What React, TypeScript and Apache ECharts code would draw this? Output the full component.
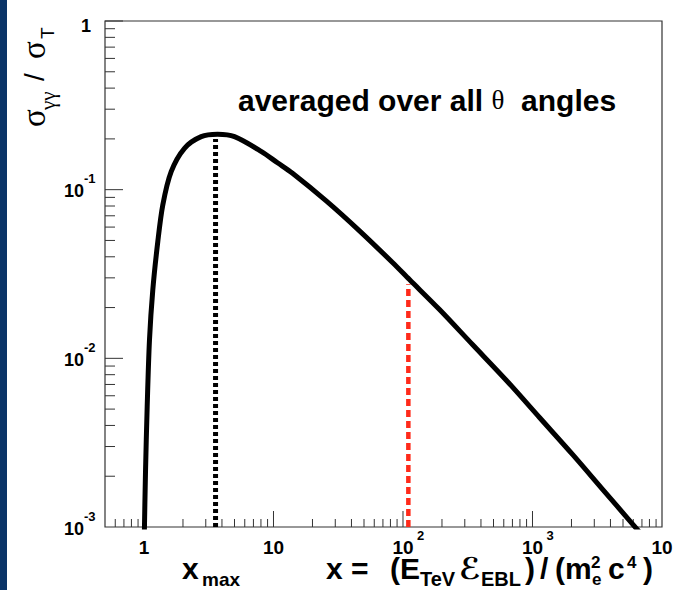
import React, { useEffect, useRef } from 'react';
import * as echarts from 'echarts';

// ---- data ----
const curveX = [1.002, 1.027, 1.0586, 1.1027, 1.1695, 1.2784, 1.397, 1.6219, 2.0547, 2.7666, 3.695, 5.0, 8.08, 10.74, 14.02, 25.67, 46.15, 82.99, 112.2, 191.4, 344.1, 629.7, 1133, 2037, 3411, 5814, 9233];
const curveY = [0.00076, 0.002093, 0.005172, 0.01285, 0.02543, 0.04917, 0.0812, 0.1279, 0.1759, 0.2062, 0.213, 0.2062, 0.1682, 0.1443, 0.1251, 0.0855, 0.057, 0.037, 0.0293, 0.01947, 0.01207, 0.00739, 0.004457, 0.002694, 0.001702, 0.001059, 0.000702];

const xMaxValue = 3.57;
const xMaxTop = 0.2;
const xRedValue = 110;
const xRedTop = 0.0275;

const xRange = [0.5, 10000];
const yRange = [0.001, 1];

const xLabelValues = [1, 10, 100, 1000, 10000];
const yLabelValues = [0.001, 0.01, 0.1, 1];
const xMajorTicks = [1, 10, 100, 1000];
const xMinorTicks = [0.6, 0.7, 0.8, 0.9, 2, 3, 4, 5, 6, 7, 8, 9, 20, 30, 40, 50, 60, 70, 80, 90, 200, 300, 400, 500, 600, 700, 800, 900, 2000, 3000, 4000, 5000, 6000, 7000, 8000, 9000];
const yMajorTicks = [0.01, 0.1, 1];
const yMinorTicks = [0.002, 0.003, 0.004, 0.005, 0.006, 0.007, 0.008, 0.009, 0.02, 0.03, 0.04, 0.05, 0.06, 0.07, 0.08, 0.09, 0.2, 0.3, 0.4, 0.5, 0.6, 0.7, 0.8, 0.9];

const titleText = 'averaged over all ';
const titleTheta = 'θ';
const titleTail = '  angles';

const SANS = '"Liberation Sans", Arial, Helvetica, sans-serif';
const SERIF = '"Liberation Serif", "DejaVu Serif", serif';

export default function App() {
  const ref = useRef<HTMLDivElement>(null);
  useEffect(() => {
    if (!ref.current) return;
    const chart = echarts.init(ref.current, undefined, { renderer: 'svg' });

    const tickColor = '#333';
    const xTickData = [
      ...xMajorTicks.map((v) => [v, yRange[0], 1]),
      ...xMinorTicks.map((v) => [v, yRange[0], 0]),
    ];
    const yTickData = [
      ...yMajorTicks.map((v) => [xRange[0], v, 1]),
      ...yMinorTicks.map((v) => [xRange[0], v, 0]),
    ];

    const txt = (x: number, y: number, text: string, size: number, opts: any = {}) => ({
      type: 'text',
      x,
      y,
      silent: true,
      style: {
        text,
        fill: '#000',
        font: `${opts.weight || 'bold'} ${size}px ${opts.family || SANS}`,
        lineHeight: Math.round(size * 0.72),
        align: opts.align || 'left',
        verticalAlign: 'middle',
      },
    });

    const option: any = {
      animation: false,
      backgroundColor: '#fff',
      grid: {
        left: 105,
        top: 21,
        width: 557,
        height: 506,
        show: true,
        borderColor: '#333',
        borderWidth: 1.2,
        backgroundColor: 'transparent',
      },
      xAxis: {
        type: 'log',
        logBase: 10,
        min: xRange[0],
        max: xRange[1],
        axisLine: { show: false },
        axisTick: { show: false },
        splitLine: { show: false },
        axisLabel: { show: false },
      },
      yAxis: {
        type: 'log',
        logBase: 10,
        min: yRange[0],
        max: yRange[1],
        axisLine: { show: false },
        axisTick: { show: false },
        splitLine: { show: false },
        axisLabel: { show: false },
      },
      series: [
        {
          type: 'custom',
          name: 'xTicks',
          coordinateSystem: 'cartesian2d',
          silent: true,
          clip: false,
          z: 1,
          encode: { x: 0, y: 1 },
          data: xTickData,
          renderItem: (params: any, api: any) => {
            const p = api.coord([api.value(0), api.value(1)]);
            const len = api.value(2) ? 16 : 8;
            return {
              type: 'line',
              shape: { x1: p[0], y1: p[1], x2: p[0], y2: p[1] - len },
              style: { stroke: tickColor, lineWidth: 1 },
            };
          },
        },
        {
          type: 'custom',
          name: 'yTicks',
          coordinateSystem: 'cartesian2d',
          silent: true,
          clip: false,
          z: 1,
          encode: { x: 0, y: 1 },
          data: yTickData,
          renderItem: (params: any, api: any) => {
            const p = api.coord([api.value(0), api.value(1)]);
            const len = api.value(2) ? 18 : 10;
            return {
              type: 'line',
              shape: { x1: p[0], y1: p[1], x2: p[0] + len, y2: p[1] },
              style: { stroke: tickColor, lineWidth: 1 },
            };
          },
        },
        {
          type: 'custom',
          name: 'xLabels',
          coordinateSystem: 'cartesian2d',
          silent: true,
          clip: false,
          z: 1,
          encode: { x: 0, y: 1 },
          data: xLabelValues.map((v) => [v, yRange[0]]),
          renderItem: (params: any, api: any) => {
            const v = api.value(0);
            const e = Math.round(Math.log10(v));
            const p = api.coord([v, api.value(1)]);
            const children: any[] = [
              {
                type: 'text',
                x: p[0],
                y: p[1] + 20,
                style: { text: e === 0 ? '1' : '10', font: `bold 19px ${SANS}`, lineHeight: 14, fill: '#000', align: 'center', verticalAlign: 'middle' },
              },
            ];
            if (e >= 2) {
              children.push({
                type: 'text',
                x: p[0] + 14,
                y: p[1] + 8.5,
                style: { text: String(e), font: `bold 13px ${SANS}`, lineHeight: 10, fill: '#000', align: 'left', verticalAlign: 'middle' },
              });
            }
            return { type: 'group', children };
          },
        },
        {
          type: 'custom',
          name: 'yLabels',
          coordinateSystem: 'cartesian2d',
          silent: true,
          clip: false,
          z: 1,
          encode: { x: 0, y: 1 },
          data: yLabelValues.map((v) => [xRange[0], v]),
          renderItem: (params: any, api: any) => {
            const v = api.value(1);
            const e = Math.round(Math.log10(v));
            const p = api.coord([api.value(0), v]);
            if (e === 0) {
              return {
                type: 'text',
                x: p[0] - 14,
                y: p[1] + 5,
                style: { text: '1', font: `bold 18px ${SANS}`, lineHeight: 14, fill: '#000', align: 'right', verticalAlign: 'middle' },
              };
            }
            return {
              type: 'group',
              children: [
                {
                  type: 'text',
                  x: p[0] - 21,
                  y: p[1] + 1.5,
                  style: { text: '10', font: `bold 18px ${SANS}`, lineHeight: 14, fill: '#000', align: 'right', verticalAlign: 'middle' },
                },
                {
                  type: 'text',
                  x: p[0] - 21,
                  y: p[1] - 11,
                  style: { text: String(e), font: `bold 13px ${SANS}`, lineHeight: 10, fill: '#000', align: 'left', verticalAlign: 'middle' },
                },
              ],
            };
          },
        },
        {
          type: 'line',
          silent: true,
          symbol: 'none',
          z: 2,
          data: [[xMaxValue, yRange[0]], [xMaxValue, xMaxTop]],
          lineStyle: { color: '#000', width: 5, type: [4, 3], cap: 'butt' },
        },
        {
          type: 'line',
          silent: true,
          symbol: 'none',
          z: 2,
          data: [[xRedValue, yRange[0]], [xRedValue, xRedTop]],
          lineStyle: { color: '#ff2a1a', width: 4.5, type: [7, 4], cap: 'butt' },
        },
        {
          type: 'line',
          silent: true,
          symbol: 'none',
          smooth: 0.3,
          z: 3,
          data: curveX.map((x, i) => [x, curveY[i]]),
          lineStyle: { color: '#000', width: 5 },
        },
      ],
      graphic: [
        { type: 'rect', silent: true, shape: { x: 0, y: 0, width: 7, height: 590 }, style: { fill: '#0a3467' } },
        {
          type: 'text',
          x: 238,
          y: 100,
          silent: true,
          style: {
            text: `{a|${titleText}}{t|${titleTheta}}{a|${titleTail}}`,
            align: 'left',
            verticalAlign: 'middle',
            rich: {
              a: { fontSize: 30, fontWeight: 'bold', fontFamily: SANS, fill: '#000' },
              t: { fontSize: 27, fontWeight: 'normal', fontFamily: SERIF, fill: '#000' },
            },
          },
        },
        // y-axis title, rotated
        {
          type: 'group',
          x: 45,
          y: 127,
          rotation: Math.PI / 2,
          silent: true,
          children: [
            txt(0, -11, 'σ', 33, { weight: 'normal', family: SERIF }),
            txt(17, 3, 'γγ', 21, { weight: 'normal', family: SERIF }),
            txt(46, -11, '/', 28, { weight: 'normal' }),
            txt(68, -11, 'σ', 33, { weight: 'normal', family: SERIF }),
            txt(88, 2, 'T', 19, { weight: 'normal' }),
          ],
        },
        // x-axis titles
        txt(182, 568, 'x', 30),
        txt(202, 579, 'max', 19),
        txt(326, 568, 'x', 30),
        txt(351, 568, '=', 30),
        txt(390, 568, '(E', 30),
        txt(420, 579, 'TeV', 20),
        txt(459, 568, 'ℰ', 30, { weight: 'bold', family: '"DejaVu Sans", sans-serif' }),
        txt(481, 579, 'EBL', 20),
        txt(525, 568, ')', 30),
        txt(540, 568, '/', 30),
        txt(555, 568, '(m', 30),
        txt(592, 579, 'e', 17),
        txt(591, 562, '2', 17),
        txt(608, 568, 'c', 30),
        txt(627, 562, '4', 17),
        txt(643, 568, ')', 30),
      ],
    };

    chart.setOption(option);
    return () => chart.dispose();
  }, []);

  return (
    <div
      ref={ref}
      style={{ position: 'fixed', left: 0, top: 0, width: 676, height: 590, background: '#fff' }}
    />
  );
}
